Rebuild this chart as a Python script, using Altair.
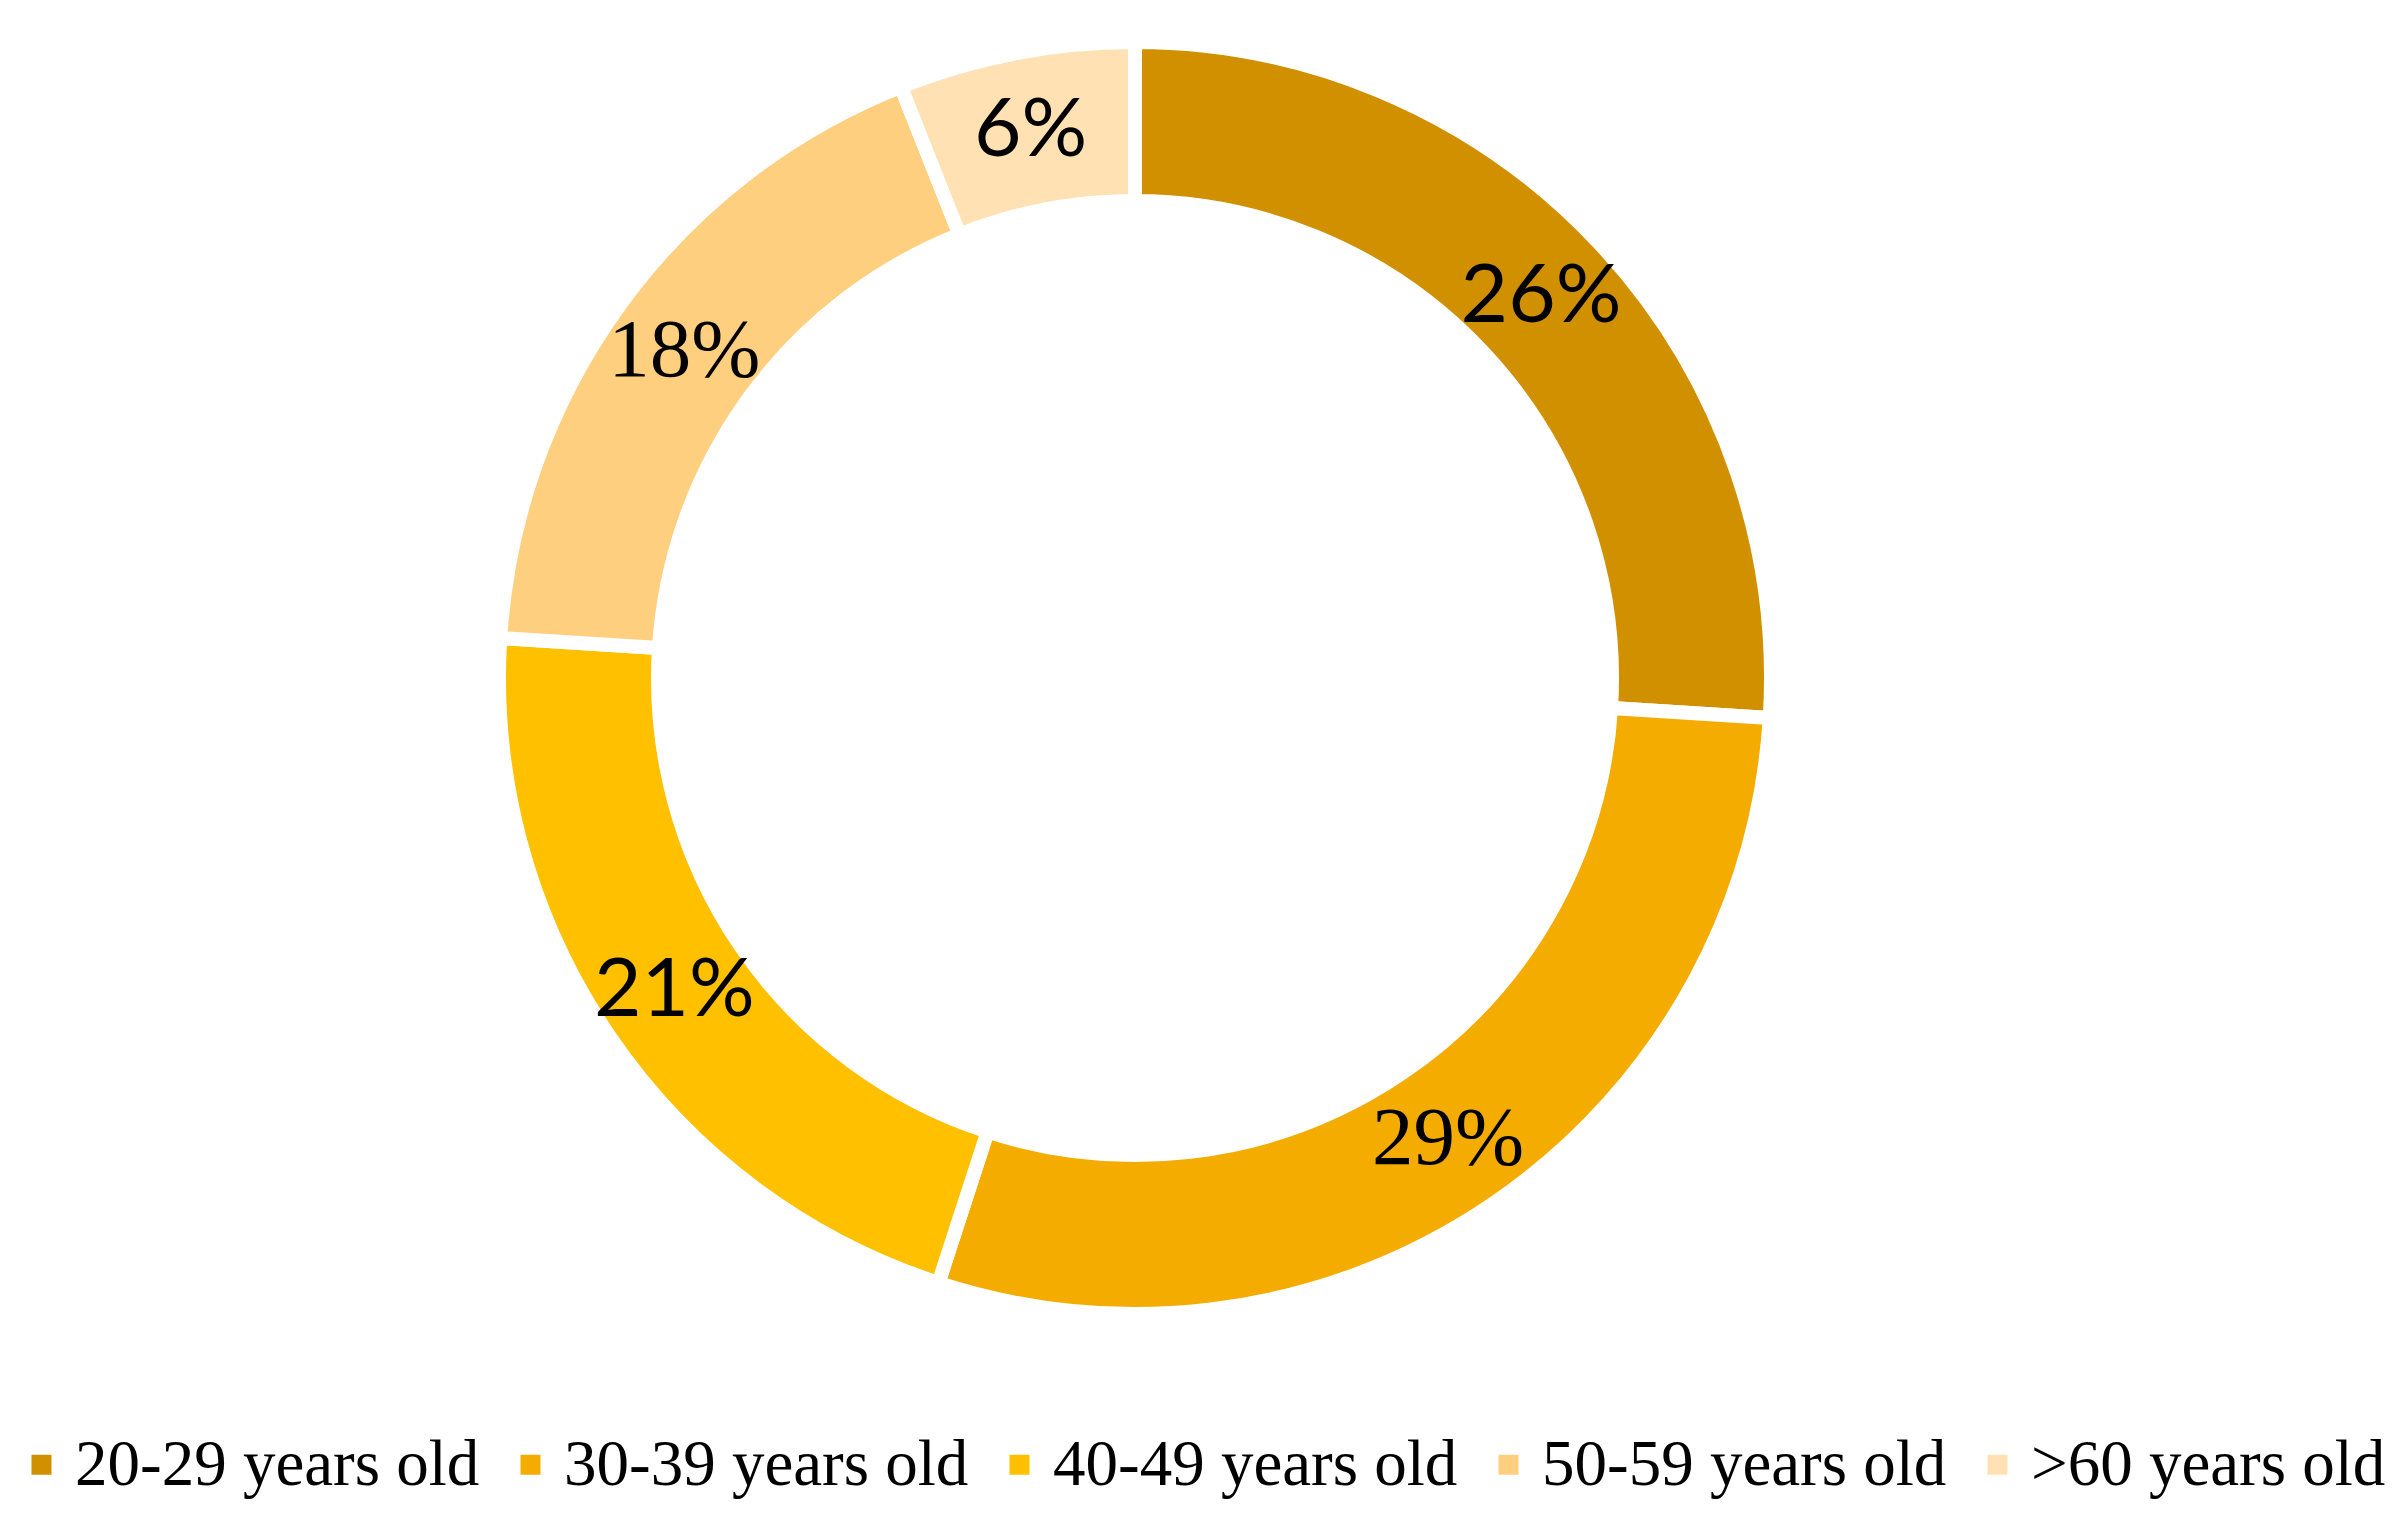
import altair as alt
import pandas as pd

categories = ["20-29 years old", "30-39 years old", "40-49 years old", "50-59 years old", ">60 years old"]
values = [26, 29, 21, 18, 6]
label_fonts = ["sans", "serif", "sans", "serif", "sans"]
colors = ["#D09000", "#F4AC00", "#FFC000", "#FFCF80", "#FFE1B4"]

df = pd.DataFrame({
    "category": categories,
    "value": values,
    "order": list(range(len(categories))),
    "label_sans": [f"{v}%" if f == "sans" else "" for v, f in zip(values, label_fonts)],
    "label_serif": [f"{v}%" if f == "serif" else "" for v, f in zip(values, label_fonts)],
})

cx, cy = 1127, 670

base = alt.Chart(df).encode(
    theta=alt.Theta("value:Q", stack=True),
    order=alt.Order("order:Q"),
    detail="category:N",
)

arcs = base.mark_arc(outerRadius=636, innerRadius=477, stroke="white", strokeWidth=14).encode(
    color=alt.Color(
        "category:N",
        scale=alt.Scale(domain=categories, range=colors),
        sort=categories,
        legend=alt.Legend(
            orient="none",
            legendX=1,
            legendY=1424,
            direction="horizontal",
            columns=5,
            title=None,
            symbolType="square",
            symbolSize=400,
            symbolStrokeWidth=0,
            labelFont="Liberation Serif",
            labelFontSize=65,
            labelColor="black",
            labelLimit=1000,
            labelOffset=1,
            columnPadding=18,
            padding=0,
        ),
    ),
    x=alt.value(cx),
    y=alt.value(cy),
)

text_sans = base.mark_text(radius=557, font="Lato", fontSize=82, color="black").encode(
    text="label_sans:N", x=alt.value(cx), y=alt.value(cy)
)
text_serif = base.mark_text(radius=557, font="Liberation Serif", fontSize=83, color="black").encode(
    text="label_serif:N", x=alt.value(cx), y=alt.value(cy)
)

chart = (
    alt.layer(arcs, text_sans, text_serif)
    .properties(width=2390, height=1515, autosize=alt.AutoSizeParams(type="none"), padding=0)
    .configure_view(stroke=None)
)

chart.save("out.html", embed_options={"renderer": "svg", "actions": False})
